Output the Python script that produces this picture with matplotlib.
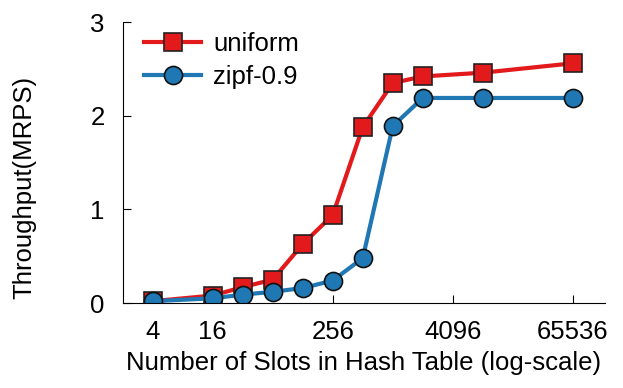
import numpy as np
import matplotlib.pyplot as plt

plt.rcParams['font.family'] = ['Liberation Sans', 'DejaVu Sans']

slots = [4, 16, 32, 64, 128, 256, 512, 1024, 2048, 8192, 65536]
uniform = [0.02, 0.08, 0.17, 0.25, 0.63, 0.94, 1.88, 2.35, 2.42, 2.46, 2.56]
zipf = [0.02, 0.05, 0.09, 0.12, 0.16, 0.24, 0.48, 1.89, 2.19, 2.19, 2.19]
xticks = [4, 16, 256, 4096, 65536]

fs = 18.5

fig = plt.figure(figsize=(6.23, 3.88), dpi=100)
ax = fig.add_axes([0.197, 0.219, 0.774, 0.724])

ax.plot(slots, uniform, color='#e31a1c', lw=3, marker='s', ms=12.5,
        mfc='#e31a1c', mec='#222222', mew=1.2, label='uniform')
ax.plot(slots, zipf, color='#1f78b4', lw=3, marker='o', ms=13,
        mfc='#1f78b4', mec='#111111', mew=1.2, label='zipf-0.9')

ax.set_xscale('log', base=2)
ax.set_xlim(2, 2 ** 17.07)
ax.set_ylim(0, 3)
ax.set_xticks(xticks)
ax.set_xticklabels([str(v) for v in xticks])
ax.minorticks_off()
ax.set_yticks([0, 1, 2, 3])
ax.tick_params(direction='in', labelsize=fs, length=6)
ax.tick_params(axis='x', pad=12)
ax.tick_params(axis='y', pad=13)

for s in ['top', 'right']:
    ax.spines[s].set_visible(False)

ax.set_xlabel('Number of Slots in Hash Table (log-scale)', fontsize=fs, labelpad=5)
ax.set_ylabel('Throughput(MRPS)', fontsize=fs)
ax.yaxis.set_label_coords(-0.18, 0.41)
ax.legend(loc='upper left', bbox_to_anchor=(0.022, 1.0), frameon=False,
          fontsize=fs, handlelength=2.25, handletextpad=0.45,
          borderaxespad=0.2, borderpad=0.2, labelspacing=0.35)

fig.savefig('out.png')
